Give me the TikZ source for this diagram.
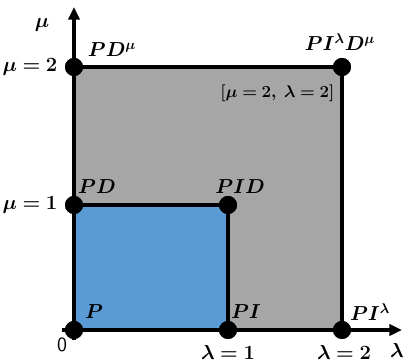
\documentclass[tikz,border=0pt]{standalone}
\usepackage{bm}
\usetikzlibrary{arrows.meta}
\definecolor{grisreg}{HTML}{A6A6A6}
\definecolor{azulreg}{HTML}{5B9BD5}
\begin{document}
\begin{tikzpicture}[
        x=0.025cm, y=0.025cm,
        punto/.style={circle, fill=black, inner sep=0pt, minimum size=0.45cm},
        etiq/.style={font=\Large, inner sep=1pt},
        borde/.style={draw=black, line width=2.4pt},
        eje/.style={-{Triangle[length=9pt, width=8pt]}, line width=2.2pt}
    ]
        \useasboundingbox (0,0) rectangle (404,361);

        % regiones
        \fill[grisreg] (74,31) rectangle (342,294);
        \fill[azulreg] (74,31) rectangle (228,156);

        % puntos
        \node[punto] (p) at (74,31) {};
        \node[punto] (pi) at (228,31) {};
        \node[punto] (pil) at (342,31) {};
        \node[punto] (pd) at (74,156) {};
        \node[punto] (pid) at (228,156) {};
        \node[punto] (pdm) at (74,294) {};
        \node[punto] (pildm) at (342,294) {};

        % ejes
        \coordinate (xini) at (62,31);
        \coordinate (xfin) at (402,31);
        \coordinate (yini) at (74,21);
        \coordinate (yfin) at (74,354);
        \draw[eje] (xini) -- (xfin);
        \draw[eje] (yini) -- (yfin);

        % bordes
        \draw[borde] (pd.center) -- (pid.center) -- (pi.center);
        \draw[borde] (pdm.center) -- (pildm.center) -- (pil.center);
        \node[punto] at (p) {};
        \node[punto] at (pi) {};
        \node[punto] at (pil) {};
        \node[punto] at (pd) {};
        \node[punto] at (pid) {};
        \node[punto] at (pdm) {};
        \node[punto] at (pildm) {};

        % etiquetas
        \node[etiq] (lmu) at (42,336) {$\bm{\mu}$};
        \node[etiq] (llam) at (397,11) {$\bm{\lambda}$};
        \node[etiq] (lpdm) at (112,311) {$\bm{PD^{\mu}}$};
        \node[etiq] (lpildm) at (340,319) {$\bm{PI^{\lambda}D^{\mu}}$};
        \node[etiq, anchor=east, font=\large] (lcaso) at (336,268) {$\bm{[\mu=2,\; \lambda=2]}$};
        \node[etiq] (lpd) at (97,174) {$\bm{PD}$};
        \node[etiq] (lpid) at (240,174) {$\bm{PID}$};
        \node[etiq] (lp) at (94,49) {$\bm{P}$};
        \node[etiq] (lpi) at (246,49) {$\bm{PI}$};
        \node[etiq] (lpil) at (370,49) {$\bm{PI^{\lambda}}$};
        \node[etiq] (lmu2) at (30,294) {$\bm{\mu=2}$};
        \node[etiq] (lmu1) at (30,156) {$\bm{\mu=1}$};
        \node[etiq] (lcero) at (62,16) {\sffamily 0};
        \node[etiq] (llam1) at (228,9) {$\bm{\lambda=1}$};
        \node[etiq] (llam2) at (344,9) {$\bm{\lambda=2}$};
    \end{tikzpicture}
\end{document}
